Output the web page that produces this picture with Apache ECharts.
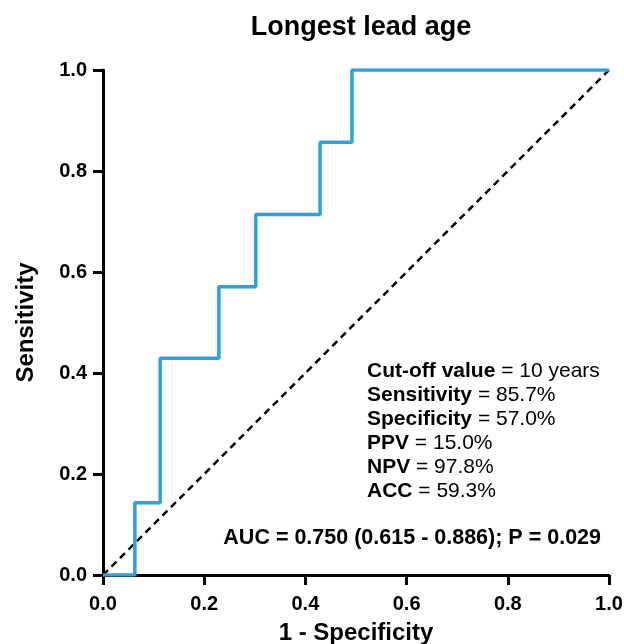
<!DOCTYPE html>
<html>
  <head>
    <meta charset="utf-8" />
    <script src="https://cdn.jsdelivr.net/npm/echarts@6.0.0/dist/echarts.min.js"></script>
    <style>
      html, body { margin: 0; padding: 0; background: #fff; }
      #main { width: 624px; height: 644px; }
    </style>
  </head>

  <body>
    <div id="main"></div>
    <script type="text/javascript">
      // ROC curve points (1 - specificity, sensitivity), steps drawn with step:'end'
      var fpr = [0, 0.063, 0.113, 0.229, 0.302, 0.429, 0.492, 1.0];
      var tpr = [0, 0.143, 0.429, 0.571, 0.714, 0.857, 1.0, 1.0];
      var refLine = [[0, 0], [1, 1]];
      var axisTicks = [0, 0.2, 0.4, 0.6, 0.8, 1.0];

      var statLines = [
        ['Cut-off value', '10 years'],
        ['Sensitivity', '85.7%'],
        ['Specificity', '57.0%'],
        ['PPV', '15.0%'],
        ['NPV', '97.8%'],
        ['ACC', '59.3%']
      ];
      var aucText = 'AUC = 0.750 (0.615 - 0.886); P = 0.029';

      var font = 'Liberation Sans, Arial, Helvetica, sans-serif';
      var myChart = echarts.init(document.getElementById('main'));

      var statText = statLines.map(function (s) {
        return '{b|' + s[0] + '}{n| = ' + s[1] + '}';
      }).join('\n');

      var axisCommon = {
        type: 'value',
        min: 0,
        max: 1,
        interval: 0.2,
        splitLine: { show: false },
        axisLine: { show: true, onZero: false, lineStyle: { color: '#000', width: 3 } },
        axisTick: { show: true, length: 10, lineStyle: { color: '#000', width: 3 } },
        axisLabel: {
          color: '#000',
          fontFamily: font,
          fontWeight: 'bold',
          fontSize: 20,
          formatter: function (v) { return v.toFixed(1); }
        },
        nameLocation: 'middle',
        nameTextStyle: { color: '#000', fontFamily: font, fontWeight: 'bold', fontSize: 24 }
      };

      var option = {
        animation: false,
        backgroundColor: '#fff',
        title: {
          text: 'Longest lead age',
          left: 356,
          textAlign: 'center',
          top: 9,
          textStyle: { color: '#000', fontFamily: font, fontWeight: 'bold', fontSize: 27 }
        },
        grid: { left: 103, right: 15, top: 70, bottom: 69, outerBoundsMode: 'none', containLabel: false },
        xAxis: Object.assign({}, axisCommon, {
          name: '1 - Specificity',
          nameGap: 46,
          axisLabel: Object.assign({}, axisCommon.axisLabel, { margin: 19 })
        }),
        yAxis: Object.assign({}, axisCommon, {
          name: 'Sensitivity',
          nameGap: 65,
          axisLabel: Object.assign({}, axisCommon.axisLabel, { margin: 16 })
        }),
        graphic: [
          {
            type: 'text',
            left: 367,
            top: 361,
            style: {
              text: statText,
              fill: '#000',
              rich: {
                b: { fontFamily: font, fontWeight: 'bold', fontSize: 21, lineHeight: 24, fill: '#000' },
                n: { fontFamily: font, fontWeight: 'normal', fontSize: 21, lineHeight: 24, fill: '#000' }
              }
            }
          },
          {
            type: 'text',
            right: 23,
            top: 527,
            style: {
              text: aucText,
              fill: '#000',
              font: 'bold 21.5px ' + font
            }
          }
        ],
        series: [
          {
            type: 'line',
            data: refLine,
            symbol: 'none',
            silent: true,
            lineStyle: { color: '#000', width: 2.5, type: [7, 5] }
          },
          {
            type: 'line',
            step: 'end',
            data: fpr.map(function (x, i) { return [x, tpr[i]]; }),
            symbol: 'none',
            lineStyle: { color: '#2F9FDE', width: 3.5 }
          }
        ]
      };

      myChart.setOption(option);
    </script>
  </body>
</html>
